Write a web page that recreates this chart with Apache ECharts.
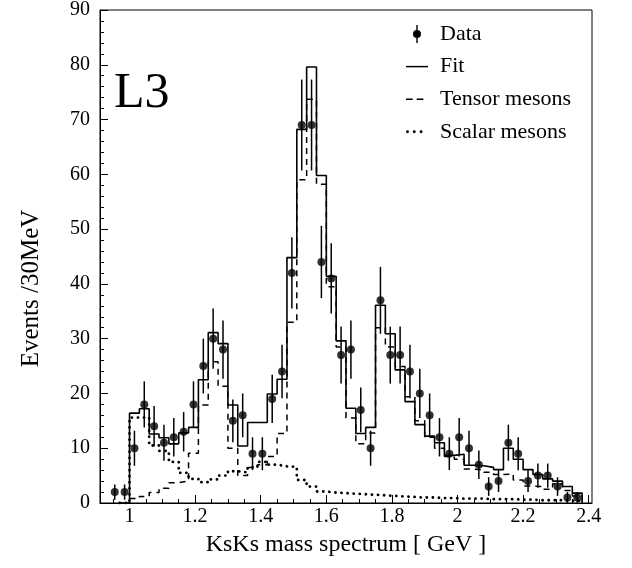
<!DOCTYPE html>
<html lang="en">
<head>
  <meta charset="UTF-8">
  <title>KsKs mass spectrum</title>
  <script src="https://cdn.jsdelivr.net/npm/echarts@6/dist/echarts.min.js"></script>
  <style>html,body{margin:0;padding:0;background:#fff;}</style>
</head>
<body>
<div id="main" style="width:632px;height:568px;"></div>
<script>
  // bin centres in GeV, 30 MeV bins
  const mass = [0.955, 0.985, 1.015, 1.045, 1.075, 1.105, 1.135, 1.165, 1.195, 1.225,
    1.255, 1.285, 1.315, 1.345, 1.375, 1.405, 1.435, 1.465, 1.495, 1.525,
    1.555, 1.585, 1.615, 1.645, 1.675, 1.705, 1.735, 1.765, 1.795, 1.825,
    1.855, 1.885, 1.915, 1.945, 1.975, 2.005, 2.035, 2.065, 2.095, 2.125,
    2.155, 2.185, 2.215, 2.245, 2.275, 2.305, 2.335, 2.365];
  // measured events per bin
  const events = [2, 2, 10, 18, 14, 11, 12, 13, 18, 25,
    30, 28, 15, 16, 9, 9, 19, 24, 42, 69,
    69, 44, 41, 27, 28, 17, 10, 37, 27, 27,
    24, 20, 16, 12, 9, 12, 10, 7, 3, 4,
    11, 9, 4, 5, 5, 3, 1, 1];
  // half length of the error bars
  const errors = [1.4, 1.4, 3.2, 4.2, 3.7, 3.3, 3.5, 3.6, 4.2, 5.0,
    5.5, 5.3, 3.9, 4.0, 3.0, 3.0, 4.4, 4.9, 6.5, 8.3,
    8.3, 6.6, 6.4, 5.2, 5.3, 4.1, 3.2, 6.1, 5.2, 5.2,
    4.9, 4.5, 4.0, 3.5, 3.0, 3.5, 3.2, 2.6, 1.7, 2.0,
    3.3, 3.0, 2.0, 2.2, 2.2, 1.7, 1.0, 1.0];
  // fit histogram
  const fit = [0, 0, 16.4, 17.2, 12.6, 11.9, 10.8, 12.8, 13.8, 22.5,
    31.1, 29.1, 17.9, 10.4, 14.7, 14.7, 19.9, 22.6, 44.8, 68.2,
    79.6, 59.8, 41.4, 29.6, 17.3, 12.7, 13.8, 36.1, 30.9, 24.3,
    18.5, 14.3, 12.2, 11.0, 8.7, 8.9, 6.9, 6.8, 6.5, 6.1,
    10.0, 8.0, 6.1, 5.2, 4.4, 4.0, 3.0, 1.8];
  // tensor mesons
  const tensor = [0, 0, 0.8, 1.2, 1.9, 2.7, 3.7, 4.0, 9.1, 17.9,
    25.8, 21.3, 10.0, 5.0, 6.5, 7.0, 8.5, 12.7, 33.0, 59.0,
    73.7, 58.2, 39.5, 28.5, 15.5, 10.8, 12.8, 32.0, 28.5, 24.9,
    19.4, 15.0, 12.0, 10.0, 8.5, 8.0, 6.2, 6.0, 5.6, 5.2,
    5.3, 4.2, 3.1, 3.0, 2.5, 3.5, 2.3, 1.3];
  // scalar mesons
  const scalar = [0, 0, 15.6, 15.6, 10.5, 9.5, 7.5, 5.5, 4.4, 3.8,
    4.3, 5.0, 5.8, 5.6, 6.5, 7.5, 7.0, 6.7, 6.6, 4.2,
    3.0, 2.1, 1.9, 1.8, 1.7, 1.6, 1.5, 1.4, 1.3, 1.2,
    1.1, 1.0, 1.0, 0.9, 0.9, 0.8, 0.8, 0.8, 0.7, 0.7,
    0.7, 0.6, 0.6, 0.5, 0.5, 0.5, 0.4, 0.4];
  const binWidth = 0.03;
  const xLabels = [1, 1.2, 1.4, 1.6, 1.8, 2, 2.2, 2.4];
  const xMinorTicks = [0.95, 1, 1.05, 1.1, 1.15, 1.2, 1.25, 1.3, 1.35, 1.4, 1.45, 1.5, 1.55,
    1.6, 1.65, 1.7, 1.75, 1.8, 1.85, 1.9, 1.95, 2, 2.05, 2.1, 2.15, 2.2, 2.25, 2.3, 2.35, 2.4];

  // histogram as step line: left edge of each bin, closing at the last right edge
  function steps(vals, from) {
    const d = [];
    for (let i = from; i < vals.length; i++) d.push([mass[i] - binWidth / 2, vals[i]]);
    d.push([mass[vals.length - 1] + binWidth / 2, 0]);
    return d;
  }

  // legend icons (tiny specks pin the box so the icons are not stretched)
  const speck = 'M21.99,0h0.01v0.01h-0.01z';
  const iconData = 'path://M0,0h0.01v0.01h-0.01zM10.3,2h1.4v18h-1.4zM15,11a4,4 0 1,1 -8,0a4,4 0 1,1 8,0zM21.99,21.99h0.01v0.01h-0.01z';
  const iconFit = 'path://M0,0h22v1.5h-22z';
  const iconDash = 'path://M0,0h6.7v1.5h-6.7zM10.7,0h6.7v1.5h-6.7z' + speck;
  const iconDot = 'path://M5.2,1.3a1.3,1.3 0 1,1 -2.6,0a1.3,1.3 0 1,1 2.6,0z' +
    'M11.2,1.3a1.3,1.3 0 1,1 -2.6,0a1.3,1.3 0 1,1 2.6,0z' +
    'M17.2,1.3a1.3,1.3 0 1,1 -2.6,0a1.3,1.3 0 1,1 2.6,0z' + speck;

  const font = '"Liberation Serif", "Times New Roman", serif';
  const myChart = echarts.init(document.getElementById('main'));
  const option = {
    animation: false,
    textStyle: {fontFamily: font, color: '#000'},
    grid: {left: 100, right: 40, top: 10, bottom: 65, show: true, borderColor: '#000', borderWidth: 1},
    legend: {
      orient: 'vertical',
      left: 401,
      top: 18,
      itemWidth: 22,
      itemHeight: 22,
      itemGap: 10.6,
      textStyle: {fontFamily: font, fontSize: 22, color: '#000', padding: [0, 0, 0, 7]},
      data: [
        {name: 'Data', icon: iconData},
        {name: 'Fit', icon: iconFit},
        {name: 'Tensor mesons', icon: iconDash},
        {name: 'Scalar mesons', icon: iconDot}
      ]
    },
    graphic: [{
      type: 'text', left: 114, top: 69,
      style: {text: 'L3', font: '50px ' + font, fill: '#000'}
    }],
    xAxis: [{
      type: 'value', min: 0.91, max: 2.41,
      name: 'KsKs mass spectrum [ GeV ]',
      nameLocation: 'middle', nameGap: 30,
      nameTextStyle: {fontFamily: font, fontSize: 24, color: '#000'},
      axisLine: {lineStyle: {color: '#000', width: 1}},
      axisTick: {inside: true, length: 8, customValues: xLabels, lineStyle: {color: '#000'}},
      axisLabel: {customValues: xLabels, fontFamily: font, fontSize: 20, color: '#000', margin: 4},
      splitLine: {show: false}
    }, {
      type: 'value', min: 0.91, max: 2.41, position: 'bottom',
      axisLine: {show: false},
      axisTick: {inside: true, length: 4, customValues: xMinorTicks, lineStyle: {color: '#000'}},
      axisLabel: {show: false},
      splitLine: {show: false}
    }],
    yAxis: {
      type: 'value', min: 0, max: 90, interval: 10,
      name: 'Events /30MeV',
      nameLocation: 'middle', nameGap: 56,
      nameTextStyle: {fontFamily: font, fontSize: 25, color: '#000', padding: [0, 64, 0, 0]},
      axisLine: {show: true, lineStyle: {color: '#000', width: 1}},
      axisTick: {inside: true, length: 8, lineStyle: {color: '#000'}},
      minorTick: {show: true, splitNumber: 5, length: 4, lineStyle: {color: '#000'}},
      axisLabel: {fontFamily: font, fontSize: 20, color: '#000', margin: 10},
      splitLine: {show: false}
    },
    series: [
      {
        name: 'Scalar mesons', type: 'line', step: 'end', symbol: 'none', clip: true,
        data: steps(scalar, 1),
        lineStyle: {color: '#000', width: 2.8, type: [0.1, 6], cap: 'round'},
        itemStyle: {color: '#000'}
      },
      {
        name: 'Tensor mesons', type: 'line', step: 'end', symbol: 'none', clip: true,
        data: steps(tensor, 2),
        lineStyle: {color: '#000', width: 1.5, type: [6, 5]},
        itemStyle: {color: '#000'}
      },
      {
        name: 'Fit', type: 'line', step: 'end', symbol: 'none', clip: true,
        data: steps(fit, 1),
        lineStyle: {color: '#000', width: 1.6},
        itemStyle: {color: '#000'}
      },
      {
        name: 'Data', type: 'custom', clip: true,
        data: mass.map((m, i) => [m, events[i] - errors[i], events[i] + errors[i]]),
        renderItem: function (params, api) {
          const lo = api.coord([api.value(0), api.value(1)]);
          const hi = api.coord([api.value(0), api.value(2)]);
          return {type: 'line', shape: {x1: lo[0], y1: lo[1], x2: hi[0], y2: hi[1]},
            style: {stroke: '#000', lineWidth: 1.5}};
        },
        itemStyle: {color: '#000'},
        z: 3
      },
      {
        name: 'Data', type: 'scatter', symbol: 'circle', symbolSize: 8,
        data: mass.map((m, i) => [m, events[i]]),
        itemStyle: {color: '#000'},
        z: 4
      }
    ]
  };
  myChart.setOption(option);
</script>
</body>
</html>
